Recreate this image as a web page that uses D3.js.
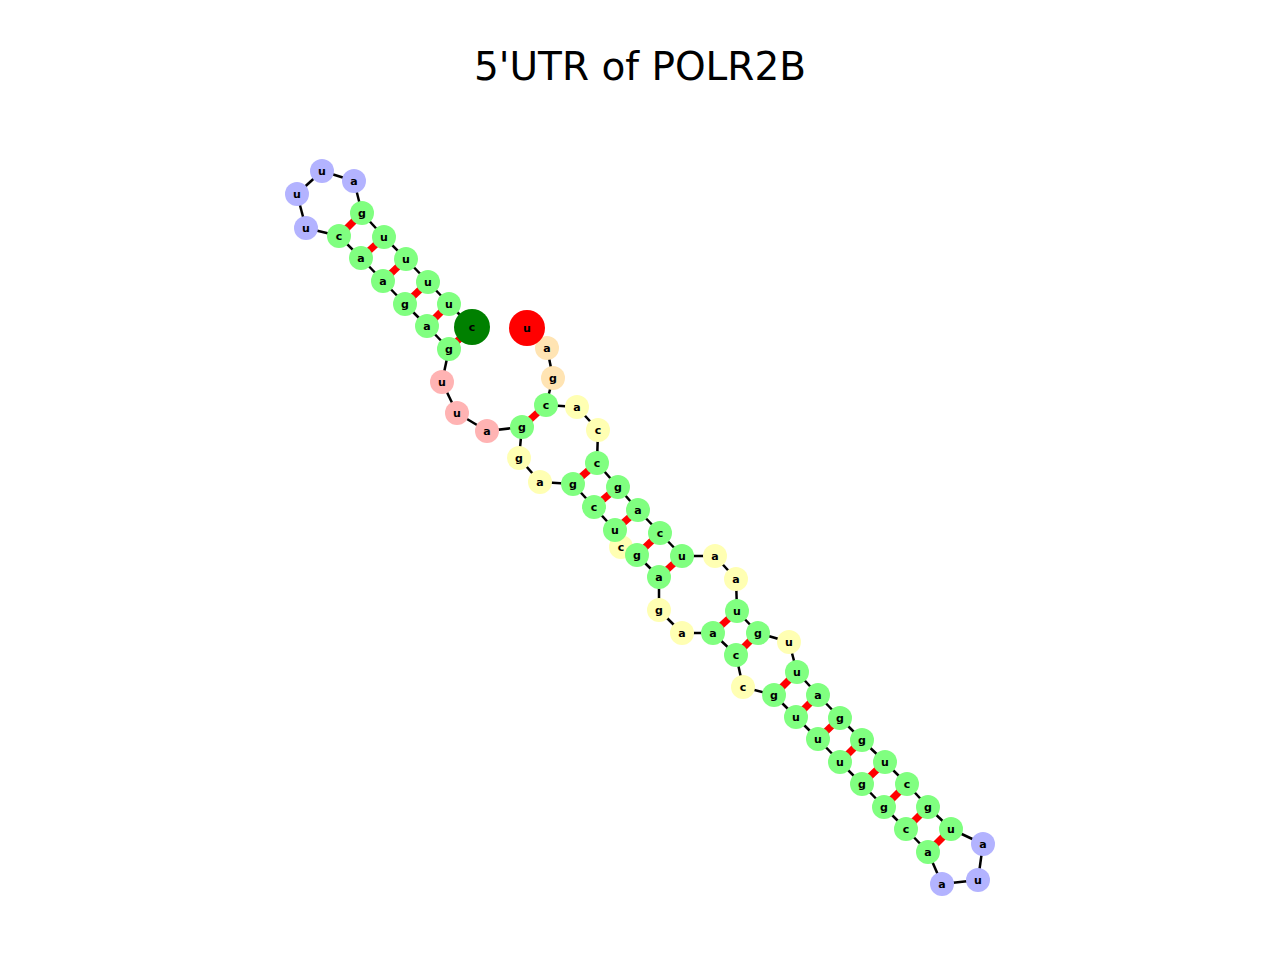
<!DOCTYPE html>
<html>
<head>
<meta charset="utf-8">
<script src="https://cdn.jsdelivr.net/npm/d3@7"></script>
<style>
    html, body { margin: 0; padding: 0; background: #fff; }
    svg { display: block; }
</style>
</head>
<body>
<svg id="rnaGraph"></svg>
<script>
    'use strict';

    // 5'UTR of POLR2B, nucleotides in order 5' -> 3'
    const bases = ['c', 'u', 'u', 'u', 'u', 'g', 'a', 'u', 'u', 'u', 'c', 'a', 'a', 'g', 'a', 'g',
        'u', 'u', 'a', 'g', 'g', 'a', 'g', 'c', 'u', 'c', 'g', 'a', 'g', 'a', 'a', 'c', 'c',
        'g', 'u', 'u', 'u', 'g', 'g', 'c', 'a', 'a', 'u', 'a', 'u', 'g', 'c', 'u', 'g', 'g',
        'a', 'u', 'u', 'g', 'u', 'a', 'a', 'u', 'c', 'a', 'g', 'c', 'c', 'a', 'c', 'g', 'a', 'u'];

    // structural element of each nucleotide (s stem, h hairpin, i interior, m multiloop, t 3' tail)
    const elements = ['s', 's', 's', 's', 's', 's', 'h', 'h', 'h', 'h', 's', 's', 's', 's', 's', 's',
        'm', 'm', 'm', 's', 'i', 'i', 's', 's', 's', 'i', 's', 's', 'i', 'i', 's', 's', 'i',
        's', 's', 's', 's', 's', 's', 's', 's', 'h', 'h', 'h', 's', 's', 's', 's', 's', 's',
        's', 's', 'i', 's', 's', 'i', 'i', 's', 's', 's', 's', 's', 'i', 'i', 's', 't', 't', 't'];

    // layout coordinates
    const layoutX = [-168, -191, -212, -234, -256, -278, -286, -318, -343, -334, -301, -279, -257, -235, -213, -191,
        -198, -183, -153, -118, -121, -100, -67, -46, -25, -19, -3, 19, 19, 42, 73, 96, 103,
        134, 156, 178, 200, 222, 244, 266, 288, 302, 338, 343, 311, 288, 267, 245, 222, 200,
        178, 157, 149, 118, 97, 96, 75, 42, 20, -2, -22, -43, -42, -63, -94, -87, -93, -113];
    const layoutY = [153, 176, 198, 221, 243, 267, 299, 309, 286, 252, 244, 222, 199, 176, 154, 131,
        98, 67, 49, 53, 22, -2, -4, -27, -50, -67, -75, -97, -130, -153, -153, -175, -207,
        -215, -237, -259, -282, -304, -327, -349, -372, -404, -400, -364, -349, -327, -304, -282, -260, -238,
        -215, -192, -162, -153, -131, -99, -76, -76, -53, -30, -7, 17, 50, 73, 75, 102, 132, 152];

    // base pairs (1-based nucleotide numbers)
    const pairs = [[1, 16], [2, 15], [3, 14], [4, 13], [5, 12], [6, 11],
        [20, 65], [23, 62], [24, 61], [25, 60], [27, 59], [28, 58],
        [31, 55], [32, 54], [34, 52], [35, 51], [36, 50], [37, 49],
        [38, 48], [39, 47], [40, 46], [41, 45]];

    const title = "5'UTR of POLR2B";

    const colors = {
        's': '#80ff80',
        'h': '#b3b3ff',
        'i': '#ffffb3',
        'm': '#ffb3b3',
        't': '#ffe4b3'
    };

    const width = 1280;
    const height = 960;

    const nodes = bases.map((b, i) => {
        return { id: i, base: b, el: elements[i], x: layoutX[i], y: layoutY[i] };
    });
    nodes[0].end = 'five';
    nodes[nodes.length - 1].end = 'three';

    let x = d3.scaleLinear()
        .domain([-640, 640])
        .range([0, width]);

    let y = d3.scaleLinear()
        .domain([480, -480])
        .range([0, height]);

    let svg = d3.select('#rnaGraph')
        .attr('width', width)
        .attr('height', height);

    svg.append('text')
        .attr('x', width / 2)
        .attr('y', 79.5)
        .attr('text-anchor', 'middle')
        .style('font-family', 'DejaVu Sans')
        .style('font-size', '39px')
        .text(title);

    let chart = svg.append('g');

    // base pair bonds
    chart.selectAll('.pair')
        .data(pairs)
        .enter().append('line')
            .attr('class', 'pair')
            .attr('x1', (d) => x(layoutX[d[0] - 1]))
            .attr('y1', (d) => y(layoutY[d[0] - 1]))
            .attr('x2', (d) => x(layoutX[d[1] - 1]))
            .attr('y2', (d) => y(layoutY[d[1] - 1]))
            .attr('stroke', '#ff0000')
            .attr('stroke-width', 7);

    // backbone
    chart.selectAll('.backbone')
        .data(d3.pairs(nodes))
        .enter().append('line')
            .attr('class', 'backbone')
            .attr('x1', (d) => x(d[0].x))
            .attr('y1', (d) => y(d[0].y))
            .attr('x2', (d) => x(d[1].x))
            .attr('y2', (d) => y(d[1].y))
            .attr('stroke', '#000')
            .attr('stroke-width', 2.5);

    // loops first, then stems, then the two ends on top
    const rank = (d) => (d.end ? 2 : (d.el === 's' ? 1 : 0));
    const ordered = nodes.slice().sort((a, b) => rank(a) - rank(b) || a.id - b.id);

    let node = chart.selectAll('.node')
        .data(ordered)
        .enter().append('g')
            .attr('class', 'node')
            .attr('transform', (d) => `translate(${x(d.x)}, ${y(d.y)})`);

    node.append('circle')
        .attr('r', (d) => d.end ? 18 : 12)
        .attr('fill', (d) => {
            if (d.end === 'five') return '#008000';
            if (d.end === 'three') return '#ff0000';
            return colors[d.el];
        });

    node.append('text')
        .attr('text-anchor', 'middle')
        .attr('dy', '0.35em')
        .style('font-family', 'DejaVu Sans')
        .style('font-weight', 'bold')
        .style('font-size', '11px')
        .text((d) => d.base);
</script>
</body>
</html>
